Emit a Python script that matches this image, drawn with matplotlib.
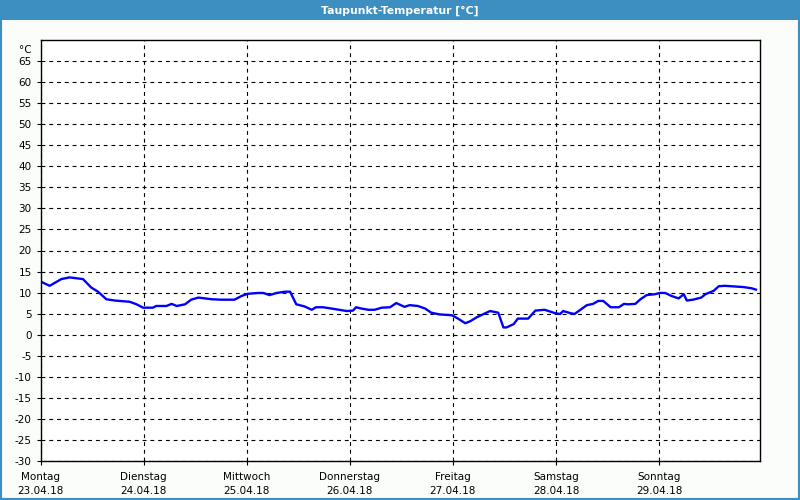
import matplotlib.pyplot as plt
from matplotlib.patches import Rectangle

# time in days since Monday 23.04.18 00:00, dew point in °C
days = [0.00, 0.087, 0.20, 0.28, 0.41, 0.49, 0.556, 0.637, 0.718, 0.864, 0.93, 0.993,
        1.09, 1.12, 1.22, 1.27, 1.32, 1.40, 1.46, 1.53, 1.66, 1.75, 1.88, 1.95, 2.01,
        2.11, 2.16, 2.22, 2.29, 2.37, 2.42, 2.48, 2.56, 2.63, 2.67, 2.74, 2.82, 2.97,
        3.03, 3.06, 3.11, 3.18, 3.24, 3.31, 3.39, 3.45, 3.53, 3.58, 3.66, 3.73, 3.79,
        3.87, 3.99, 4.05, 4.12, 4.17, 4.23, 4.29, 4.36, 4.44, 4.46, 4.49, 4.52, 4.59,
        4.63, 4.73, 4.80, 4.89, 4.99, 5.04, 5.07, 5.14, 5.18, 5.30, 5.36, 5.41, 5.46,
        5.53, 5.61, 5.66, 5.70, 5.77, 5.82, 5.88, 5.96, 6.01, 6.06, 6.12, 6.19, 6.24,
        6.27, 6.33, 6.41, 6.45, 6.53, 6.58, 6.64, 6.70, 6.82, 6.90, 6.94]
dewpoint = [12.6, 11.6, 13.2, 13.6, 13.2, 11.2, 10.2, 8.4, 8.1, 7.8, 7.2, 6.4,
            6.4, 6.8, 6.8, 7.3, 6.8, 7.2, 8.3, 8.8, 8.4, 8.3, 8.3, 9.2, 9.7,
            9.9, 9.9, 9.4, 9.9, 10.2, 10.2, 7.2, 6.7, 5.9, 6.5, 6.5, 6.2, 5.6,
            5.7, 6.5, 6.2, 5.9, 5.9, 6.4, 6.5, 7.5, 6.6, 7.0, 6.8, 6.2, 5.2,
            4.8, 4.6, 3.8, 2.7, 3.2, 4.1, 4.8, 5.6, 5.2, 3.8, 1.7, 1.7, 2.5,
            3.8, 3.8, 5.7, 5.9, 5.1, 4.9, 5.6, 5.1, 4.9, 7.0, 7.3, 8.0, 8.0,
            6.5, 6.5, 7.3, 7.2, 7.3, 8.4, 9.4, 9.6, 9.9, 9.9, 9.2, 8.6, 9.6,
            8.1, 8.3, 8.8, 9.6, 10.4, 11.5, 11.6, 11.5, 11.3, 11.0, 10.7]

weekdays = ["Montag", "Dienstag", "Mittwoch", "Donnerstag", "Freitag", "Samstag", "Sonntag"]
dates = ["23.04.18", "24.04.18", "25.04.18", "26.04.18", "27.04.18", "28.04.18", "29.04.18"]
yticks = list(range(-30, 70, 5))

fig = plt.figure(figsize=(8, 5), dpi=100, facecolor="#fbfdfb")

# window frame + title bar
fig.patches.append(Rectangle((0, 0), 1, 1, transform=fig.transFigure, fill=False,
                             edgecolor="#3d8fc2", linewidth=3))
fig.patches.append(Rectangle((0, 0.96), 1, 0.04, transform=fig.transFigure,
                             facecolor="#3d8fc2", edgecolor="none"))
fig.text(0.5, 0.979, "Taupunkt-Temperatur [°C]", color="white", fontsize=7.8,
         fontweight="bold", ha="center", va="center")

ax = fig.add_axes([0.0509, 0.0786, 0.8991, 0.8408])
ax.set_facecolor("white")
ax.plot(days, dewpoint, color="#0000ff", linewidth=1.7)

ax.set_xlim(0, 6.98)
ax.set_ylim(-30, 70)
ax.set_yticks(yticks)
ax.set_yticklabels([str(v) for v in yticks])
ax.set_xticks(range(7))
ax.set_xticklabels([w + "\n" + d for w, d in zip(weekdays, dates)], linespacing=1.55)
ax.text(-0.012, 67.6, "°C", transform=ax.get_yaxis_transform(), ha="right",
        va="center", fontsize=7.5)

ax.grid(True, color="black", linestyle=(0, (3.5, 3.5)), linewidth=0.8)
ax.tick_params(axis="both", length=3, width=0.8, labelsize=7.5, color="black")
ax.tick_params(axis="x", pad=5)
for s in ax.spines.values():
    s.set_linewidth(1)
    s.set_color("black")

fig.savefig("out.png", dpi=100, facecolor=fig.get_facecolor())
